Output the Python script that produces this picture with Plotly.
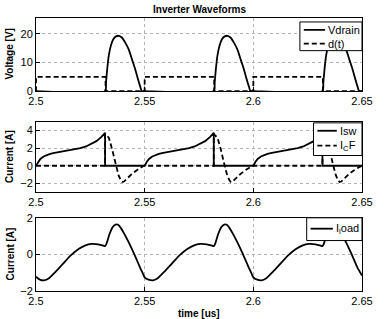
import plotly.graph_objects as go

# ---------------- data ----------------
t_vdrain = [2.5, 2.5318, 2.5322, 2.5328, 2.5335, 2.5345, 2.5355, 2.5368, 2.5382, 2.5395, 2.541, 2.5427, 2.5442, 2.5457, 2.547, 2.548, 2.5487,
            2.55, 2.5818, 2.5822, 2.5828, 2.5835, 2.5845, 2.5855, 2.5868, 2.5882, 2.5895, 2.591, 2.5927, 2.5942, 2.5957, 2.597, 2.598, 2.5987,
            2.6, 2.6318, 2.6322, 2.6328, 2.6335, 2.6345, 2.6355, 2.6368, 2.6382, 2.6395, 2.641, 2.6427, 2.6442, 2.6457, 2.647, 2.648, 2.6487, 2.65]
vdrain = [0, 0, 3, 8, 12.5, 16, 18, 19.1, 19.3, 18.7, 17, 14.5, 11, 7.5, 4, 1.5, 0,
          0, 0, 3, 8, 12.5, 16, 18, 19.1, 19.3, 18.7, 17, 14.5, 11, 7.5, 4, 1.5, 0,
          0, 0, 3, 8, 12.5, 16, 18, 19.1, 19.3, 18.7, 17, 14.5, 11, 7.5, 4, 1.5, 0, 0]

t_d = [2.5, 2.5, 2.532, 2.532, 2.55, 2.55, 2.582, 2.582, 2.6, 2.6, 2.632, 2.632, 2.65]
d_t = [0, 5, 5, 0, 0, 5, 5, 0, 0, 5, 5, 0, 0]

t_isw = [2.5, 2.501, 2.502, 2.5035, 2.505, 2.5065, 2.5085, 2.511, 2.5144, 2.5175, 2.5204, 2.523, 2.5255, 2.5278, 2.53, 2.5318, 2.5318,
         2.55, 2.551, 2.552, 2.5535, 2.555, 2.5565, 2.5585, 2.561, 2.5644, 2.5675, 2.5704, 2.573, 2.5755, 2.5778, 2.58, 2.5818, 2.5818,
         2.6, 2.601, 2.602, 2.6035, 2.605, 2.6065, 2.6085, 2.611, 2.6144, 2.6175, 2.6204, 2.623, 2.6255, 2.6278, 2.63, 2.6318, 2.6318, 2.65]
isw = [0, 0.45, 0.78, 1.05, 1.22, 1.35, 1.47, 1.58, 1.7, 1.83, 2.0, 2.2, 2.48, 2.8, 3.25, 3.75, 0,
       0, 0.45, 0.78, 1.05, 1.22, 1.35, 1.47, 1.58, 1.7, 1.83, 2.0, 2.2, 2.48, 2.8, 3.25, 3.75, 0,
       0, 0.45, 0.78, 1.05, 1.22, 1.35, 1.47, 1.58, 1.7, 1.83, 2.0, 2.2, 2.48, 2.8, 3.25, 3.75, 0, 0]

t_icf = [2.5, 2.5318, 2.5318, 2.5335, 2.535, 2.5368, 2.538, 2.539, 2.5397, 2.5405, 2.542, 2.544, 2.547, 2.5496,
         2.5818, 2.5818, 2.5835, 2.585, 2.5868, 2.588, 2.589, 2.5897, 2.5905, 2.592, 2.594, 2.597, 2.5996,
         2.6318, 2.6318, 2.6335, 2.635, 2.6368, 2.638, 2.639, 2.6397, 2.6405, 2.642, 2.644, 2.647, 2.6496, 2.65]
icf = [0, 0, 3.6, 3.2, 1.9, 0, -1.1, -1.65, -1.85, -1.8, -1.45, -0.95, -0.4, 0,
       0, 3.6, 3.2, 1.9, 0, -1.1, -1.65, -1.85, -1.8, -1.45, -0.95, -0.4, 0,
       0, 3.6, 3.2, 1.9, 0, -1.1, -1.65, -1.85, -1.8, -1.45, -0.95, -0.4, 0, 0]

t_iload = [2.5, 2.5018, 2.5037, 2.506, 2.509, 2.5125, 2.516, 2.5196, 2.5225, 2.5255, 2.5286, 2.531, 2.5318, 2.5325, 2.5338, 2.5353, 2.5366, 2.5378, 2.539, 2.5405, 2.5425, 2.5442, 2.546, 2.5479, 2.5492,
           2.55, 2.5518, 2.5537, 2.556, 2.559, 2.5625, 2.566, 2.5696, 2.5725, 2.5755, 2.5786, 2.581, 2.5818, 2.5825, 2.5838, 2.5853, 2.5866, 2.5878, 2.589, 2.5905, 2.5925, 2.5942, 2.596, 2.5979, 2.5992,
           2.6, 2.6018, 2.6037, 2.606, 2.609, 2.6125, 2.616, 2.6196, 2.6225, 2.6255, 2.6286, 2.631, 2.6318, 2.6325, 2.6338, 2.6353, 2.6366, 2.6378, 2.639, 2.6405, 2.6425, 2.6442, 2.646, 2.6479, 2.65]
iload = [-1.22, -1.38, -1.42, -1.3, -0.95, -0.5, -0.05, 0.3, 0.48, 0.57, 0.55, 0.48, 0.45, 0.6, 1.1, 1.5, 1.63, 1.62, 1.45, 1.15, 0.7, 0.28, -0.2, -0.72, -1.05,
         -1.25, -1.38, -1.42, -1.3, -0.95, -0.5, -0.05, 0.3, 0.48, 0.57, 0.55, 0.48, 0.45, 0.6, 1.1, 1.5, 1.63, 1.62, 1.45, 1.15, 0.7, 0.28, -0.2, -0.72, -1.05,
         -1.25, -1.38, -1.42, -1.3, -0.95, -0.5, -0.05, 0.3, 0.48, 0.57, 0.55, 0.48, 0.45, 0.6, 1.1, 1.5, 1.63, 1.62, 1.45, 1.15, 0.7, 0.28, -0.2, -0.72, -1.15]

x_ticks = [2.5, 2.55, 2.6, 2.65]
x_ticktext = ["2.5", "2.55", "2.6", "2.65"]

names_top = ["Vdrain", "d(t)"]
names_mid = ["Isw", "I<sub>C</sub>F"]
names_bot = ["I<sub>l</sub>oad"]

# ---------------- figure ----------------
FONT = "Liberation Sans, Arial, sans-serif"
LW = 1.8
DASH = "5px,3px"
W, H = 385, 319
ML, MR, MT, MB = 36, 13, 15, 28
PW, PH = W - ML - MR, H - MT - MB


def px(xp):
    return (xp - ML) / PW


def py(yp):
    return (H - MB - yp) / PH


fig = go.Figure()
fig.add_trace(go.Scatter(x=t_vdrain, y=vdrain, mode="lines", name=names_top[0],
                         line=dict(color="black", width=LW, shape="spline", smoothing=0.6),
                         xaxis="x", yaxis="y"))
fig.add_trace(go.Scatter(x=t_d, y=d_t, mode="lines", name=names_top[1],
                         line=dict(color="black", width=LW, dash=DASH),
                         xaxis="x", yaxis="y"))
fig.add_trace(go.Scatter(x=t_isw, y=isw, mode="lines", name=names_mid[0],
                         line=dict(color="black", width=LW),
                         xaxis="x2", yaxis="y2"))
fig.add_trace(go.Scatter(x=t_icf, y=icf, mode="lines", name=names_mid[1],
                         line=dict(color="black", width=LW, dash=DASH),
                         xaxis="x2", yaxis="y2"))
fig.add_trace(go.Scatter(x=t_iload, y=iload, mode="lines", name=names_bot[0],
                         line=dict(color="black", width=LW, shape="spline", smoothing=0.6),
                         xaxis="x3", yaxis="y3"))

ax_common = dict(showline=True, mirror=True, linecolor="black", linewidth=1,
                 ticks="inside", ticklen=4, tickcolor="black",
                 showgrid=True, gridcolor="#b4b4b4", griddash="dot", gridwidth=1,
                 zeroline=False, tickfont=dict(family=FONT, size=11, color="black"))

xax = dict(range=[2.5, 2.65], tickvals=x_ticks, ticktext=x_ticktext, **ax_common)

d_top = [py(89), py(15)]
d_mid = [py(191), py(120)]
d_bot = [py(291), py(217)]

fig.update_layout(
    width=W, height=H,
    margin=dict(l=ML, r=MR, t=MT, b=MB),
    paper_bgcolor="white", plot_bgcolor="white",
    font=dict(family=FONT, size=11, color="black"),
    showlegend=False,
    xaxis=dict(domain=[0, 1], anchor="y", **xax),
    xaxis2=dict(domain=[0, 1], anchor="y2", **xax),
    xaxis3=dict(domain=[0, 1], anchor="y3", **xax),
    yaxis=dict(domain=d_top, anchor="x", range=[0, 25.5], tickvals=[0, 10, 20], **ax_common),
    yaxis2=dict(domain=d_mid, anchor="x2", range=[-3, 5], tickvals=[-2, 0, 2, 4], **ax_common),
    yaxis3=dict(domain=d_bot, anchor="x3", range=[-2, 2], tickvals=[-2, 0, 2], **ax_common),
)

shapes = []
ann = []


def legend_box(x0, y0, x1, y1, rows):
    """rows: list of (y_pixel, line_x0, line_x1, dash, text)"""
    shapes.append(dict(type="rect", xref="paper", yref="paper", x0=px(x0), x1=px(x1),
                       y0=py(y1), y1=py(y0), fillcolor="white",
                       line=dict(color="black", width=1), layer="above"))
    for yy, lx0, lx1, dash, text in rows:
        shapes.append(dict(type="line", xref="paper", yref="paper", x0=px(lx0), x1=px(lx1),
                           y0=py(yy), y1=py(yy), layer="above",
                           line=dict(color="black", width=LW, dash=dash)))
        ann.append(dict(text=text, xref="paper", yref="paper", x=px(lx1 + 1), y=py(yy),
                        xanchor="left", yanchor="middle", showarrow=False,
                        font=dict(family=FONT, size=11, color="black")))


legend_box(308, 19, 372, 48, [(27, 312, 334, "solid", names_top[0]),
                              (41, 312, 334, DASH, names_top[1])])
legend_box(322, 121, 372, 154, [(129, 326, 346, "solid", names_mid[0]),
                                (144, 326, 346, DASH, names_mid[1])])
legend_box(315, 217, 372, 240, [(228, 319, 342, "solid", names_bot[0])])

ann.append(dict(text="<b>Inverter Waveforms</b>", xref="paper", yref="paper", x=0.5, y=1,
                xanchor="center", yanchor="bottom", yshift=1, showarrow=False,
                font=dict(family=FONT, size=10, color="black")))
for label, dom in [("Voltage [V]", d_top), ("Current [A]", d_mid), ("Current [A]", d_bot)]:
    ann.append(dict(text="<b>" + label + "</b>", xref="paper", yref="paper",
                    x=0, y=(dom[0] + dom[1]) / 2, xanchor="center", yanchor="middle",
                    xshift=-26, textangle=-90, showarrow=False,
                    font=dict(family=FONT, size=10, color="black")))
ann.append(dict(text="<b>time [us]</b>", xref="paper", yref="paper", x=0.5, y=0,
                xanchor="center", yanchor="top", yshift=-15, showarrow=False,
                font=dict(family=FONT, size=10, color="black")))

fig.update_layout(shapes=shapes, annotations=ann)

fig.write_html("out.html")
